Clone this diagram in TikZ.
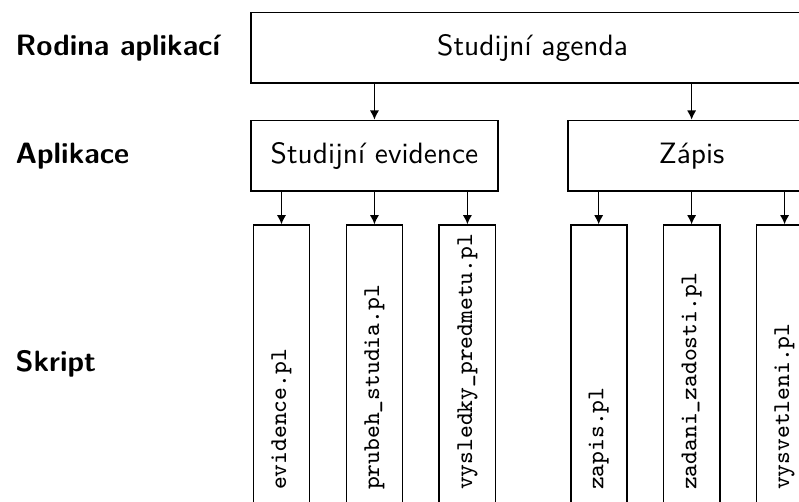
\documentclass[tikz,border=0pt]{standalone}
\usepackage{fontspec}
\usepackage{tikz}
\usetikzlibrary{positioning, arrows.meta}

\begin{document}
\begin{tikzpicture}[
    >={Latex[length=1.1mm, width=1.1mm]},
    node distance=0.43cm and 0.82cm,
    every node/.style={font=\sffamily},
    agenda/.style={
        draw, line width=0.6pt, inner sep=0pt,
        minimum width=6.73cm, minimum height=0.84cm
    },
    app/.style={
        draw, line width=0.6pt, inner sep=0pt,
        minimum width=2.95cm, minimum height=0.84cm
    },
    script/.style={
        draw, line width=0.6pt, inner sep=0pt,
        minimum width=0.67cm, minimum height=3.45cm
    },
    fname/.style={rotate=90, anchor=west, inner xsep=0.29cm,
        font=\ttfamily\fontsize{8.2pt}{10pt}\selectfont},
    level/.style={font=\sffamily\bfseries, anchor=west, inner xsep=0pt},
    arrow/.style={->, line width=0.5pt},
]
\useasboundingbox (0,0) rectangle (9.55,-6.0);
\clip (0,0) rectangle (9.55,-6.0);

% --- Rodina aplikaci ---
\node[level] (lrod) at (0.18,-0.57) {Rodina aplikací};
\node[agenda, anchor=west] (agenda) at (2.99,-0.57) {Studijní agenda};

% --- Aplikace ---
\node[app, below=0.43cm of agenda.south west, anchor=north west] (evid) {Studijní evidence};
\node[app, right=of evid] (zapis) {Zápis};
\node[level] (lapp) at (lrod.west |- evid) {Aplikace};
\draw[arrow] (agenda.south -| evid) -- (evid.north);
\draw[arrow] (agenda.south -| zapis) -- (zapis.north);

% --- Skript: Studijni evidence ---
\node[script, below=0.39cm of evid, label={[fname]south:prubeh\_studia.pl}] (prubeh) {};
\node[script, left=0.42cm of prubeh, label={[fname]south:evidence.pl}] (evidpl) {};
\node[script, right=0.42cm of prubeh, label={[fname]south:vysledky\_predmetu.pl}] (vysledky) {};
\draw[arrow] (evid.south -| evidpl) -- (evidpl.north);
\draw[arrow] (evid.south -| prubeh) -- (prubeh.north);
\draw[arrow] (evid.south -| vysledky) -- (vysledky.north);

% --- Skript: Zapis ---
\node[script, below=0.39cm of zapis, label={[fname]south:zadani\_zadosti.pl}] (zadani) {};
\node[script, left=0.42cm of zadani, label={[fname]south:zapis.pl}] (zapispl) {};
\node[script, right=0.42cm of zadani, label={[fname]south:vysvetleni.pl}] (vysvetleni) {};
\draw[arrow] (zapis.south -| zapispl) -- (zapispl.north);
\draw[arrow] (zapis.south -| zadani) -- (zadani.north);
\draw[arrow] (zapis.south -| vysvetleni) -- (vysvetleni.north);

\node[level, yshift=0.07cm] (lskr) at (lrod.west |- prubeh) {Skript};

\end{tikzpicture}
\end{document}
